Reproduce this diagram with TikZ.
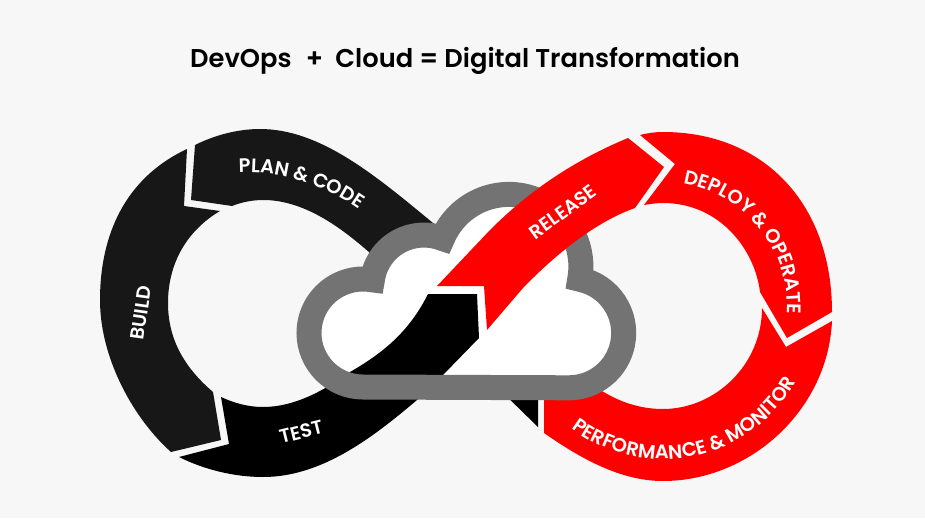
\documentclass[tikz,border=0pt]{standalone}
\usepackage{fontspec}
\setmainfont{Poppins}
\newfontfamily\headfont{Poppins SemiBold}
\newfontfamily\segfont{Poppins SemiBold}
\usepackage{tikz}
\usetikzlibrary{decorations.text}
\definecolor{pagebg}{HTML}{F7F7F7}
\definecolor{darkseg}{HTML}{171717}
\definecolor{redseg}{HTML}{FF0000}
\definecolor{cloudline}{HTML}{737373}
\newcommand{\cloudpath}{(363,387) arc[start angle=90,end angle=280,radius=54]
  arc[start angle=188,end angle=291,radius=52]
  arc[start angle=202.8,end angle=370.3,radius=72]
  arc[start angle=281.4,end angle=450,radius=54.8] -- cycle}
\tikzset{
  title/.style={font=\headfont\fontsize{19.3}{24}\selectfont,text=black},
  seglabel/.style={font=\segfont\fontsize{14.4}{16}\selectfont,text=white},
  curvedlabel/.style={decorate,decoration={text along path,text align={align=center},
    text={|\segfont\fontsize{14.6}{16}\selectfont\color{white}|#1}}}
}
\begin{document}
\begin{tikzpicture}[x=0.75pt,y=0.75pt,yscale=-1]
\useasboundingbox (0,0) rectangle (925,518);
\fill[pagebg] (0,0) rectangle (925,518);
\node[title] (heading) at (465,61) {DevOps\ \ \kern1.5pt+\ \ Cloud = Digital Transformation};
% black half, behind the cloud
\fill[darkseg] (195,145) .. controls (215,135) and (238,129) .. (260,129) .. controls (320,129) and (375,175) .. (433,223) -- (465,250)
  -- (400,280) -- (370,253) .. controls (335,222) and (300,200) .. (263,200) .. controls (253,200) and (242,202) .. (232,206)
  -- (191,200) -- cycle;
\fill[darkseg] (187,149) .. controls (125,178) and (100,235) .. (100,300) .. controls (100,360) and (135,420) .. (171,452)
  -- (221,440) -- (213,392) .. controls (185,368) and (168,340) .. (168,303) .. controls (168,262) and (188,230) .. (220,211)
  -- (184,206) -- cycle;
\fill[black] (495,385) -- (538,427) -- (538,385) -- cycle;
% red bottom segment also runs behind the cloud
\fill[redseg] (832,321) -- (786,347) -- (762,308) .. controls (762,365) and (715,409) .. (663,409) .. controls (640,409) and (620,402) .. (602,391)
  -- (570,370) -- (544,385) -- (544,433) .. controls (580,458) and (620,481) .. (663,481) .. controls (750,481) and (828,410) .. (832,321) -- cycle;
% cloud inside
\fill[white] \cloudpath;
\fill[black] (179,457) .. controls (205,470) and (235,477) .. (263,477) .. controls (320,477) and (370,440) .. (417,400)
  -- (443,375) -- (479,338) -- (477,294) -- (428,294) .. controls (410,330) and (385,352) .. (350,372)
  .. controls (325,390) and (295,407) .. (263,407) .. controls (248,407) and (234,403) .. (221,397) -- (229,444) -- cycle;
\draw[cloudline,line width=18.75pt,line join=miter,miter limit=20] \cloudpath;
% red top segments, over the cloud
\fill[redseg] (437,286) -- (484,286) -- (487,330) -- (523,288) .. controls (555,255) and (595,222) .. (635,208)
  -- (664,167) -- (628,138) .. controls (575,160) and (530,190) .. (490,230) -- cycle;
\fill[redseg] (640,135) -- (675,164) -- (644,205) .. controls (650,204) and (657,203) .. (663,203) .. controls (720,203) and (755,250) .. (760,292)
  -- (787,338) -- (832,312) .. controls (832,205) and (765,132) .. (663,132) .. controls (655,132) and (648,133) .. (640,135) -- cycle;
% labels
\node[seglabel,rotate=82] (build) at (141,313) {BUILD};
\node[seglabel,rotate=14] (testlabel) at (301,432) {TEST};
\node[seglabel,rotate=36] (release) at (563,212) {RELEASE};
\path[curvedlabel={PLAN {\&} CODE}] (238,173) .. controls (280,170) and (325,185) .. (360,210);
\path[curvedlabel={DEPLOY {\&} OPERATE}] (663,306) ++(-85:124) arc[start angle=-85,end angle=8,radius=124];
\path[curvedlabel={PERFORMANCE {\&} MONITOR}] (663,306) ++(132:153) arc[start angle=132,end angle=24.5,radius=153];
\end{tikzpicture}
\end{document}
